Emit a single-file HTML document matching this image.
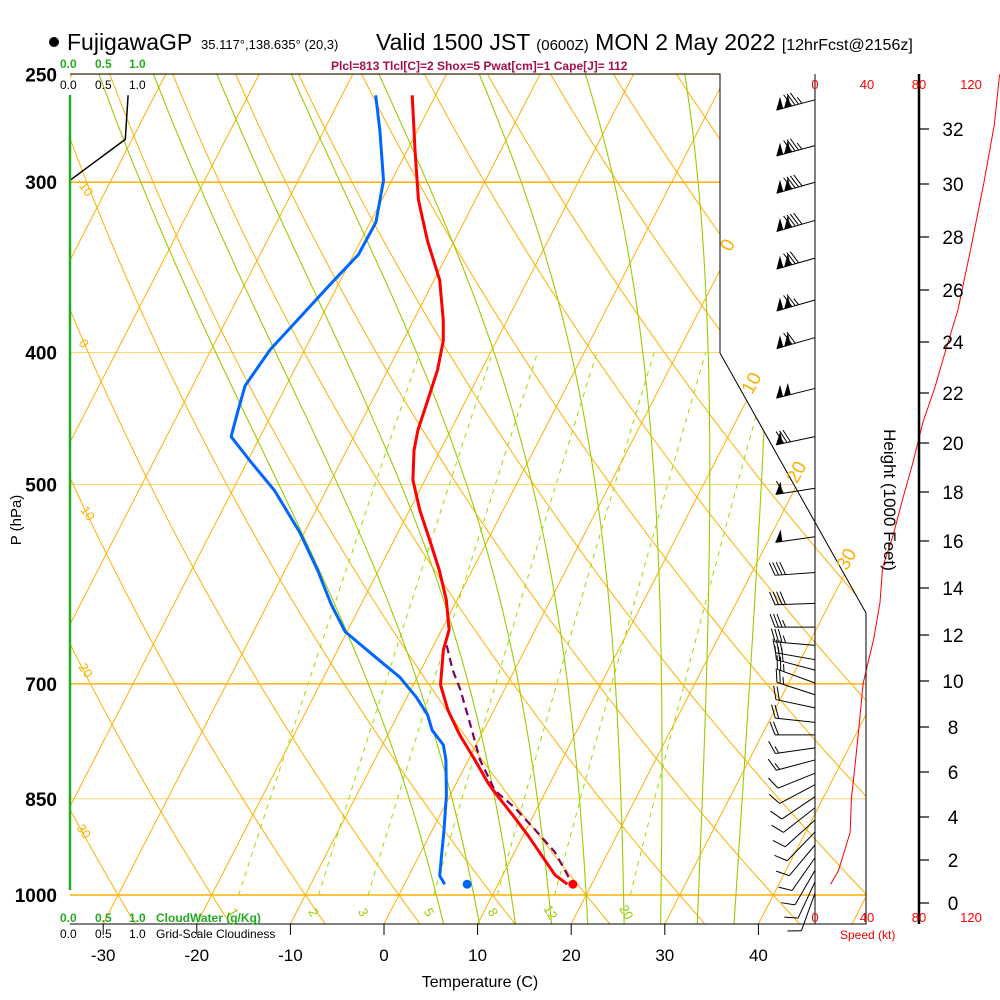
<!DOCTYPE html>
<html><head><meta charset="utf-8">
<style>
html,body{margin:0;padding:0;background:#fff;}
svg{display:block;font-family:"Liberation Sans",Arial,sans-serif;}
</style></head>
<body>
<svg id="chart" width="1000" height="1000" viewBox="0 0 1000 1000" xmlns="http://www.w3.org/2000/svg">
<defs>
<clipPath id="plotclip"><polygon points="70,74 720,74 720,353 866,613 866,924 70,924"/></clipPath>
</defs>
<rect x="0" y="0" width="1000" height="1000" fill="#fff"/>
<g id="bg" clip-path="url(#plotclip)"></g>
<g id="marks"></g>
<g id="frame">
<polyline points="70,74 720,74 720,353 866,613 866,924 70,924" fill="none" stroke="#000" stroke-width="1"/>
<line x1="815" y1="74" x2="815" y2="924" stroke="#000" stroke-width="1"/>
<line x1="919" y1="74" x2="919" y2="924" stroke="#000" stroke-width="2.5"/>
<line x1="70" y1="95" x2="70" y2="890" stroke="#22aa22" stroke-width="2.5"/>
</g>
<g id="text">
<circle cx="54" cy="42" r="5" fill="#000"/>
<text x="67" y="50" font-size="23">FujigawaGP</text>
<text x="201" y="49" font-size="13">35.117°,138.635° (20,3)</text>
<text x="376" y="50" font-size="23">Valid 1500 JST <tspan font-size="15">(0600Z)</tspan> MON 2 May 2022 <tspan font-size="16">[12hrFcst@2156z]</tspan></text>
<text x="331" y="70" font-size="12" font-weight="bold" fill="#a5104a">Plcl=813 Tlcl[C]=2 Shox=5 Pwat[cm]=1 Cape[J]= 112</text>
<text x="60" y="68" font-size="12" font-weight="bold" fill="#22aa22">0.0<tspan x="95">0.5</tspan><tspan x="129">1.0</tspan></text>
<text x="60" y="89" font-size="12" fill="#000">0.0<tspan x="95">0.5</tspan><tspan x="129">1.0</tspan></text>
<text x="60" y="922" font-size="12" font-weight="bold" fill="#22aa22">0.0<tspan x="95">0.5</tspan><tspan x="129">1.0</tspan><tspan x="156">CloudWater (g/Kg)</tspan></text>
<text x="60" y="938" font-size="12" fill="#000">0.0<tspan x="95">0.5</tspan><tspan x="129">1.0</tspan><tspan x="156">Grid-Scale Cloudiness</tspan></text>
<text x="480" y="987" font-size="16" text-anchor="middle">Temperature (C)</text>
<text transform="translate(21,520) rotate(-90)" font-size="15" text-anchor="middle">P (hPa)</text>
<text transform="translate(884,500) rotate(90)" font-size="17" text-anchor="middle">Height (1000 Feet)</text>
<text x="840" y="939" font-size="12" fill="#e00">Speed (kt)</text>
</g>
<g id="axes"></g>
</svg>
<script>
// ---- data ----
const tempP = [259,284,309,331,354,379,392,412,433,456,472,496,522,549,578,608,639,661,701,732,763,796,828,845,874,904,943,967,982];
const tempT = [-42.5,-39.2,-36.1,-32.9,-29.4,-26.8,-25.7,-24.7,-24.1,-23.5,-22.8,-21.3,-18.9,-16.2,-13.5,-11.1,-9.2,-8.7,-7.1,-4.9,-2.3,0.7,3.4,5.0,7.8,10.5,13.7,15.6,17.4];
const dewP = [259,275,299,309,321,339,357,377,398,423,441,461,480,505,542,578,613,641,672,692,716,738,757,776,796,845,896,943,968,982];
const dewT = [-46.4,-44.0,-40.9,-40.2,-39.4,-39.5,-40.9,-42.3,-43.7,-44.4,-43.8,-43.1,-39.8,-35.5,-30.5,-26.5,-23.1,-20.2,-15.1,-11.9,-9.0,-6.8,-5.5,-3.5,-2.4,-0.4,1.25,2.6,3.3,4.3];
const parcelP = [656,684,707,757,796,838,863,896,930,968,982];
const parcelT = [-8.6,-6.6,-4.7,-1.25,1.25,4.5,7.6,11.0,14.3,17.0,17.7];
const sfcP = 982, sfcT = 18.0, sfcTd = 6.7;
const cloudP = [259,279,299];
const cloudF = [0.83,0.79,0.0];
const windP = [261,282,300,320,341,366,390,425,461,503,546,580,611,636,656,672,684,699,713,729,747,763,780,796,814,830,847,863,881,899,919,939,959,978,997];
const windDir = [255,255,254,254,254,254,254,256,258,261,262,266,268,270,275,280,285,290,288,282,276,270,262,255,248,242,236,232,228,224,220,215,210,205,200];
const windSpd = [135,135,140,140,130,125,118,100,82,60,50,42,40,36,34,32,30,27,24,22,20,18,16,13,12,12,12,11,11,11,11,11,12,12,12];
const speedLineP = [250,272,300,335,372,400,425,450,483,510,545,575,610,650,680,700,750,800,850,900,960,982];
const speedLineV = [142,138,130,120,110,100,92,83,75,68,60,52,50,45,40,37,34,31,28,27,18,12];
const tempTicks = [-30,-20,-10,0,10,20,30,40];
const presTicks = [250,300,400,500,700,850,1000];
const heightTicks = [0,2,4,6,8,10,12,14,16,18,20,22,24,26,28,30,32];
const heightPx = [903,860,817,772,727,681,635,588,541,492,443,393,342,290,237,184,129];
const speedTicks = [0,40,80,120];
const mixRatios = [1,2,3,5,8,12,20];
const moistStart = [4,8,12,16,20,24,28,32,36];
const dryThetas = [-40,-30,-20,-10,0,10,20,30,40,50,60,70,80,90,100,110,120,130,140,150,160];
const isotherms = [-110,-100,-90,-80,-70,-60,-50,-40,-30,-20,-10,0,10,20,30,40,50];

// ---- axis functions ----
function yP(p){return 895-592*Math.log(1000/p);}
function xT(T,p){return 384+9.36*T+0.514*(924-yP(p));}
function xS(v){return 815+1.3*v;}
const NS='http://www.w3.org/2000/svg';
function mk(tag,attrs,parent){const e=document.createElementNS(NS,tag);for(const k in attrs)e.setAttribute(k,attrs[k]);parent.appendChild(e);return e;}
const bg=document.getElementById('bg'), marks=document.getElementById('marks'), axes=document.getElementById('axes');
function ptsFrom(ps,ts){return ps.map((p,i)=>xT(ts[i],p).toFixed(1)+','+yP(p).toFixed(1)).join(' ');}

// isobars
presTicks.forEach(p=>{
  const l=mk('line',{x1:70,x2:866,y1:yP(p),y2:yP(p),stroke:'#ffb000','stroke-width':(p==300||p==700||p==1000)?1.4:1,'stroke-opacity':(p==300||p==700||p==1000)?1:0.55},bg);
  
  
});
// isotherms
isotherms.forEach(T=>{
  const l=mk('line',{x1:xT(T,1060),y1:yP(1060),x2:xT(T,240),y2:yP(240),stroke:'#ffb000','stroke-width':1},bg);
  
  
});
// dry adiabats
dryThetas.forEach(th=>{
  const pts=[];for(let p=1060;p>=240;p-=10){const T=(th+273.15)*Math.pow(p/1000,0.286)-273.15;pts.push(xT(T,p).toFixed(1)+','+yP(p).toFixed(1));}
  const l=mk('polyline',{points:pts.join(' '),fill:'none',stroke:'#ffb000','stroke-width':1},bg);
  
  
});
// moist adiabats
function es(Tc){return 6.112*Math.exp(17.67*Tc/(Tc+243.5));}
moistStart.forEach(T0=>{
  function step(p0,p1,dp){let T=T0+273.15;let p=p0;
    const arr=[];
    while((dp<0&&p>=p1)||(dp>0&&p<=p1)){arr.push([p,T-273.15]);
      const e=es(T-273.15), ws=0.622*e/(p-e);
      const dTdp=(287*T+2.5e6*ws)/(p*(1004+2.5e6*2.5e6*ws*0.622/(287*T*T)));
      T+=dTdp*dp;p+=dp;}
    return arr;}
  const up=step(1000,240,-5), down=step(1000,1060,5).reverse();
  const all=down.concat(up);
  const l=mk('polyline',{points:all.map(a=>xT(a[1],a[0]).toFixed(1)+','+yP(a[0]).toFixed(1)).join(' '),fill:'none',stroke:'#99cc00','stroke-width':1.1},bg);
  
  
});
// mixing ratio lines
mixRatios.forEach(w=>{
  const pts=[];for(let p=1000;p>=400;p-=10){const e=w*p/(622+w);const L=Math.log(e/6.112);const T=243.5*L/(17.67-L);pts.push(xT(T,p).toFixed(1)+','+yP(p).toFixed(1));}
  const l=mk('polyline',{points:pts.join(' '),fill:'none',stroke:'#99dd00','stroke-width':1,'stroke-dasharray':'5,5'},bg);
  
  
  const e=w*1030/(622+w);const L=Math.log(e/6.112);const T=243.5*L/(17.67-L);
  const t=mk('text',{x:xT(T,1030),y:yP(1030)+4,'font-size':13,fill:'#99cc00','text-anchor':'middle',transform:'rotate(60 '+xT(T,1030)+' '+(yP(1030))+')'},bg);
  t.textContent=w;
  
  
});
// adiabat / isotherm labels
[['-10',76,182],['0',78,343],['10',80,510],['20',78,667],['30',76,828]].forEach(a=>{
  const t=mk('text',{x:a[1],y:a[2],'font-size':13,fill:'#ffb000',transform:'rotate(55 '+a[1]+' '+a[2]+')'},axes);
  t.textContent=a[0];
  
  
});
[['0',733,248],['10',757,386],['20',802,475],['30',852,562]].forEach(a=>{
  const t=mk('text',{x:a[1],y:a[2],'font-size':19,fill:'#ffb000','text-anchor':'middle',transform:'rotate(-62 '+a[1]+' '+a[2]+')'},axes);
  t.textContent=a[0];
  
  
});

// cloudiness
const cl=mk('polyline',{points:cloudP.map((p,i)=>(70+70*cloudF[i]).toFixed(1)+','+yP(p).toFixed(1)).join(' '),fill:'none',stroke:'#000','stroke-width':1.5},marks);


// profiles
const dl=mk('polyline',{points:ptsFrom(dewP,dewT),fill:'none',stroke:'#0066ff','stroke-width':3,'stroke-linejoin':'round'},marks);


const pl=mk('polyline',{points:ptsFrom(parcelP,parcelT),fill:'none',stroke:'#800060','stroke-width':2.2,'stroke-dasharray':'8,5'},marks);


const tl=mk('polyline',{points:ptsFrom(tempP,tempT),fill:'none',stroke:'#ff0000','stroke-width':3,'stroke-linejoin':'round'},marks);


const sd=mk('circle',{cx:xT(sfcT,sfcP),cy:yP(sfcP),r:4.5,fill:'#ff0000'},marks);


const sdd=mk('circle',{cx:xT(sfcTd,sfcP),cy:yP(sfcP),r:4.5,fill:'#0066ff'},marks);



// wind speed line
const sl=mk('polyline',{points:speedLineP.map((p,i)=>Math.min(xS(speedLineV[i]),1000).toFixed(1)+','+yP(p).toFixed(1)).join(' '),fill:'none',stroke:'#ff0000','stroke-width':1},marks);



// wind barbs
windP.forEach((p,i)=>{
  const g=mk('g',{},marks);
  
  
  const d=windDir[i]*Math.PI/180, ux=Math.sin(d), uy=-Math.cos(d);
  const bx=815, by=yP(p), L=40;
  const tx=bx+ux*L, ty=by+uy*L;
  const px=-uy, py=ux;
  const sgn=(py>0)?-1:1;
  const nx=px*sgn, ny=py*sgn;
  mk('line',{x1:bx,y1:by,x2:tx,y2:ty,stroke:'#000','stroke-width':1},g);
  let s=windSpd[i]; let pos=0;
  while(s>=47.5){
    const ax=tx-ux*pos, ay=ty-uy*pos, cx=tx-ux*(pos+7), cy=ty-uy*(pos+7);
    mk('polygon',{points:ax+','+ay+' '+(cx+nx*12)+','+(cy+ny*12)+' '+cx+','+cy,fill:'#000'},g);
    pos+=8; s-=50;}
  while(s>=7.5){
    const ax=tx-ux*pos, ay=ty-uy*pos;
    mk('line',{x1:ax,y1:ay,x2:ax+nx*13+ux*5,y2:ay+ny*13+uy*5,stroke:'#000','stroke-width':1},g);
    pos+=3.5; s-=10;}
  if(s>=2.5){const ax=tx-ux*pos, ay=ty-uy*pos;
    mk('line',{x1:ax,y1:ay,x2:ax+nx*7+ux*3,y2:ay+ny*7+uy*3,stroke:'#000','stroke-width':1},g);}
});

// axes labels
presTicks.forEach(p=>{
  const t=mk('text',{x:57,y:yP(p)+7,'font-size':19,'font-weight':'bold','text-anchor':'end'},axes);
  t.textContent=p;
  
  
});
tempTicks.forEach(T=>{
  const x=384+9.36*T;
  mk('line',{x1:x,y1:924,x2:x,y2:935,stroke:'#000'},axes);
  const t=mk('text',{x:x,y:961,'font-size':17,'text-anchor':'middle'},axes);
  t.textContent=T;
  
  
});
heightTicks.forEach((h,i)=>{
  mk('line',{x1:919,y1:heightPx[i],x2:929,y2:heightPx[i],stroke:'#000','stroke-width':1.2},axes);
  const t=mk('text',{x:953,y:heightPx[i]+7,'font-size':19,'text-anchor':'middle'},axes);
  t.textContent=h;
  
  
});
speedTicks.forEach(v=>{
  [89,922].forEach(y=>{
    const t=mk('text',{x:xS(v),y:y,'font-size':13,fill:'#ff0000','text-anchor':'middle'},axes);
    t.textContent=v;
    
    
  });
});
</script>
</body></html>
